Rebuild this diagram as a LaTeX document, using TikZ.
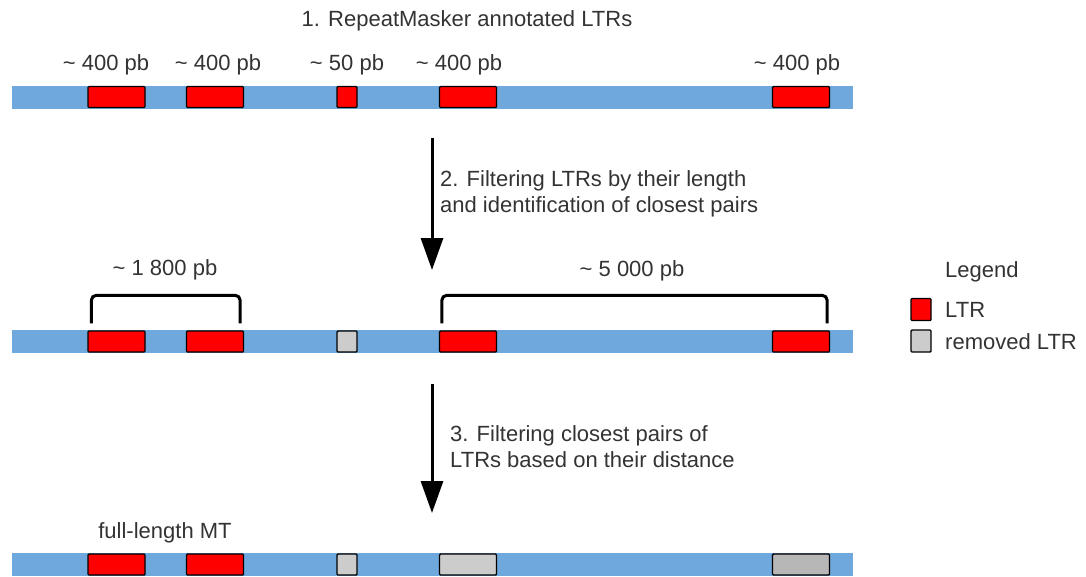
\documentclass[tikz,border=0pt]{standalone}
\usepackage{fontspec}
\setmainfont{Liberation Sans}
\usetikzlibrary{arrows.meta,calc}
\definecolor{barblue}{HTML}{6FA8DC}
\definecolor{ltrred}{HTML}{FF0000}
\definecolor{remgray}{HTML}{CCCCCC}
\definecolor{remgraydark}{HTML}{B7B7B7}
\definecolor{txt}{HTML}{333333}
\tikzset{
  bar/.style={fill=barblue, draw=none, minimum height=23pt, inner sep=0pt},
  ltrbox/.style={draw=black, line width=1.4pt, fill=ltrred, minimum height=21pt, minimum width=57pt, inner sep=0pt, rounded corners=1pt},
  smallbox/.style={ltrbox, minimum width=20pt},
  rembox/.style={ltrbox, fill=remgray},
  remsmall/.style={smallbox, fill=remgray},
  legbox/.style={draw=black, line width=1.4pt, minimum width=20pt, minimum height=22pt, inner sep=0pt, rounded corners=1pt},
  lbl/.style={text=txt, inner sep=0pt, font=\fontsize{22}{26}\selectfont},
  steptext/.style={lbl, anchor=west, align=left},
  bracketline/.style={line width=3pt, rounded corners=5pt},
  steparrow/.style={line width=3pt, -{Triangle[width=22pt,length=32pt]}}
}
\begin{document}
\begin{tikzpicture}[x=1pt,y=-1pt]
\useasboundingbox (0,0) rectangle (1086,576);
% Title
\node[lbl] (title) at (467,21) {1. RepeatMasker annotated LTRs};
% Row 1
\node[bar, minimum width=841pt] (bar1) at (432.5,97) {};
\node[ltrbox] (r1a) at (116.5,97) {};
\node[ltrbox] (r1b) at (215,97) {};
\node[smallbox] (r1c) at (347,97) {};
\node[ltrbox] (r1d) at (468,97) {};
\node[ltrbox] (r1e) at (801,97) {};
\node[lbl] (l1a) at (106,65) {\textasciitilde{} 400 pb};
\node[lbl] (l1b) at (218,65) {\textasciitilde{} 400 pb};
\node[lbl] (l1c) at (347,65) {\textasciitilde{} 50 pb};
\node[lbl] (l1d) at (459,65) {\textasciitilde{} 400 pb};
\node[lbl] (l1e) at (797,65) {\textasciitilde{} 400 pb};
% Arrow 1
\coordinate (a1s) at (432,138);
\coordinate (a1e) at (432,270);
\draw[steparrow] (a1s) -- (a1e);
\node[steptext] (t2) at (440,194) {2. Filtering LTRs by their length\\and identification of closest pairs};
% Row 2
\node[bar, minimum width=841pt] (bar2) at (432.5,341.5) {};
\node[ltrbox] (r2a) at (116.5,341.5) {};
\node[ltrbox] (r2b) at (215,341.5) {};
\node[remsmall] (r2c) at (347,341.5) {};
\node[ltrbox] (r2d) at (468,341.5) {};
\node[ltrbox] (r2e) at (801,341.5) {};
\draw[bracketline] ($(r2a.north west)+(4pt,7pt)$) -- ($(r2a.north west)+(4pt,35pt)$) -- ($(r2b.north east)+(-4pt,35pt)$) -- ($(r2b.north east)+(-4pt,7pt)$);
\draw[bracketline] ($(r2d.north west)+(3pt,7pt)$) -- ($(r2d.north west)+(3pt,35pt)$) -- ($(r2e.north east)+(-3pt,35pt)$) -- ($(r2e.north east)+(-3pt,7pt)$);
\node[lbl] (l2a) at (165,270) {\textasciitilde{} 1 800 pb};
\node[lbl] (l2b) at (632,271) {\textasciitilde{} 5 000 pb};
% Legend
\node[lbl, anchor=west] (legtitle) at (945,272) {Legend};
\node[legbox, fill=ltrred] (legred) at (921,309.5) {};
\node[legbox, fill=remgray] (leggray) at (921,341) {};
\node[lbl, anchor=west] (legltr) at (945,310) {LTR};
\node[lbl, anchor=west] (legrem) at (945,342) {removed LTR};
% Arrow 2
\coordinate (a2s) at (432,384);
\coordinate (a2e) at (432,513);
\draw[steparrow] (a2s) -- (a2e);
\node[steptext] (t3) at (450,446.5) {3. Filtering closest pairs of\\LTRs based on their distance};
% Row 3
\node[bar, minimum width=841pt] (bar3) at (432.5,564.5) {};
\node[ltrbox] (r3a) at (116.5,564.5) {};
\node[ltrbox] (r3b) at (215,564.5) {};
\node[remsmall] (r3c) at (347,564.5) {};
\node[rembox] (r3d) at (468,564.5) {};
\node[rembox, fill=remgraydark] (r3e) at (801,564.5) {};
\node[lbl] (l3) at (165,533) {full-length MT};
\end{tikzpicture}
\end{document}
